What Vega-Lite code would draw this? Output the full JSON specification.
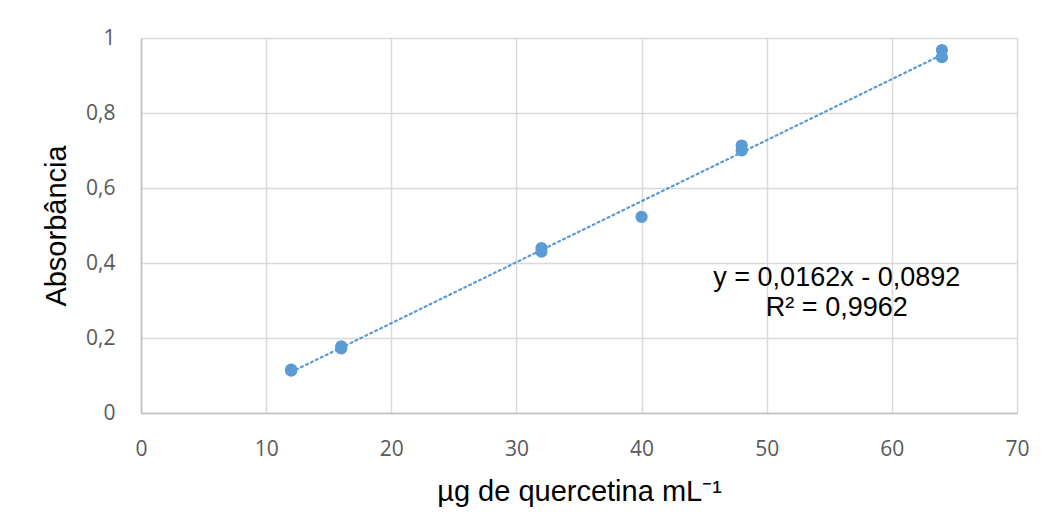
{
  "$schema": "https://vega.github.io/schema/vega-lite/v6.json",
  "width": 876,
  "height": 375,
  "autosize": {"type": "none"},
  "padding": {"left": 141, "top": 38, "right": 27, "bottom": 116},
  "background": "white",
  "config": {
    "view": {"stroke": null},
    "axis": {
      "gridColor": "#d9d9d9",
      "gridWidth": 1.5,
      "domainColor": "#bfbfbf",
      "domainWidth": 1.5,
      "ticks": false,
      "labelFlush": false,
      "labelColor": "#595959",
      "labelFont": "Open Sans",
      "labelFontSize": 21,
      "titleFont": "Liberation Sans",
      "titleFontWeight": "normal",
      "titleColor": "#000000",
      "titleFontSize": 29
    }
  },
  "data": {
    "values": [
      {"conc": 12, "abs": 0.113},
      {"conc": 12, "abs": 0.116},
      {"conc": 16, "abs": 0.172},
      {"conc": 16, "abs": 0.178},
      {"conc": 32, "abs": 0.430},
      {"conc": 32, "abs": 0.440},
      {"conc": 40, "abs": 0.523},
      {"conc": 48, "abs": 0.700},
      {"conc": 48, "abs": 0.713},
      {"conc": 64, "abs": 0.949},
      {"conc": 64, "abs": 0.968}
    ]
  },
  "layer": [
    {
      "transform": [{"regression": "abs", "on": "conc", "extent": [12, 64]}],
      "mark": {"type": "line", "color": "#5b9bd5", "strokeWidth": 2.2, "strokeDash": [2, 3.5], "strokeCap": "round"},
      "encoding": {
        "x": {"field": "conc", "type": "quantitative"},
        "y": {"field": "abs", "type": "quantitative"}
      }
    },
    {
      "mark": {"type": "circle", "color": "#5b9bd5", "opacity": 1, "size": 150},
      "encoding": {
        "x": {
          "field": "conc",
          "type": "quantitative",
          "scale": {"domain": [0, 70], "nice": false},
          "axis": {"values": [0, 10, 20, 30, 40, 50, 60, 70], "labelPadding": 25, "title": "µg de quercetina mL⁻¹", "titlePadding": 18}
        },
        "y": {
          "field": "abs",
          "type": "quantitative",
          "scale": {"domain": [0, 1], "nice": false},
          "axis": {
            "values": [0, 0.2, 0.4, 0.6, 0.8, 1],
            "labelExpr": "replace(format(datum.value, '~g'), '.', ',')",
            "labelPadding": 26,
            "title": "Absorbância",
            "titlePadding": 14
          }
        }
      }
    },
    {
      "data": {"values": [{"eq": "y = 0,0162x - 0,0892", "r2": "R² = 0,9962"}]},
      "mark": {"type": "text", "font": "Liberation Sans", "fontSize": 27, "color": "#000000", "align": "center", "baseline": "middle", "lineHeight": 30},
      "encoding": {
        "x": {"datum": 55.6},
        "y": {"datum": 0.36},
        "text": {"value": ["y = 0,0162x - 0,0892", "R² = 0,9962"]}
      }
    }
  ]
}
